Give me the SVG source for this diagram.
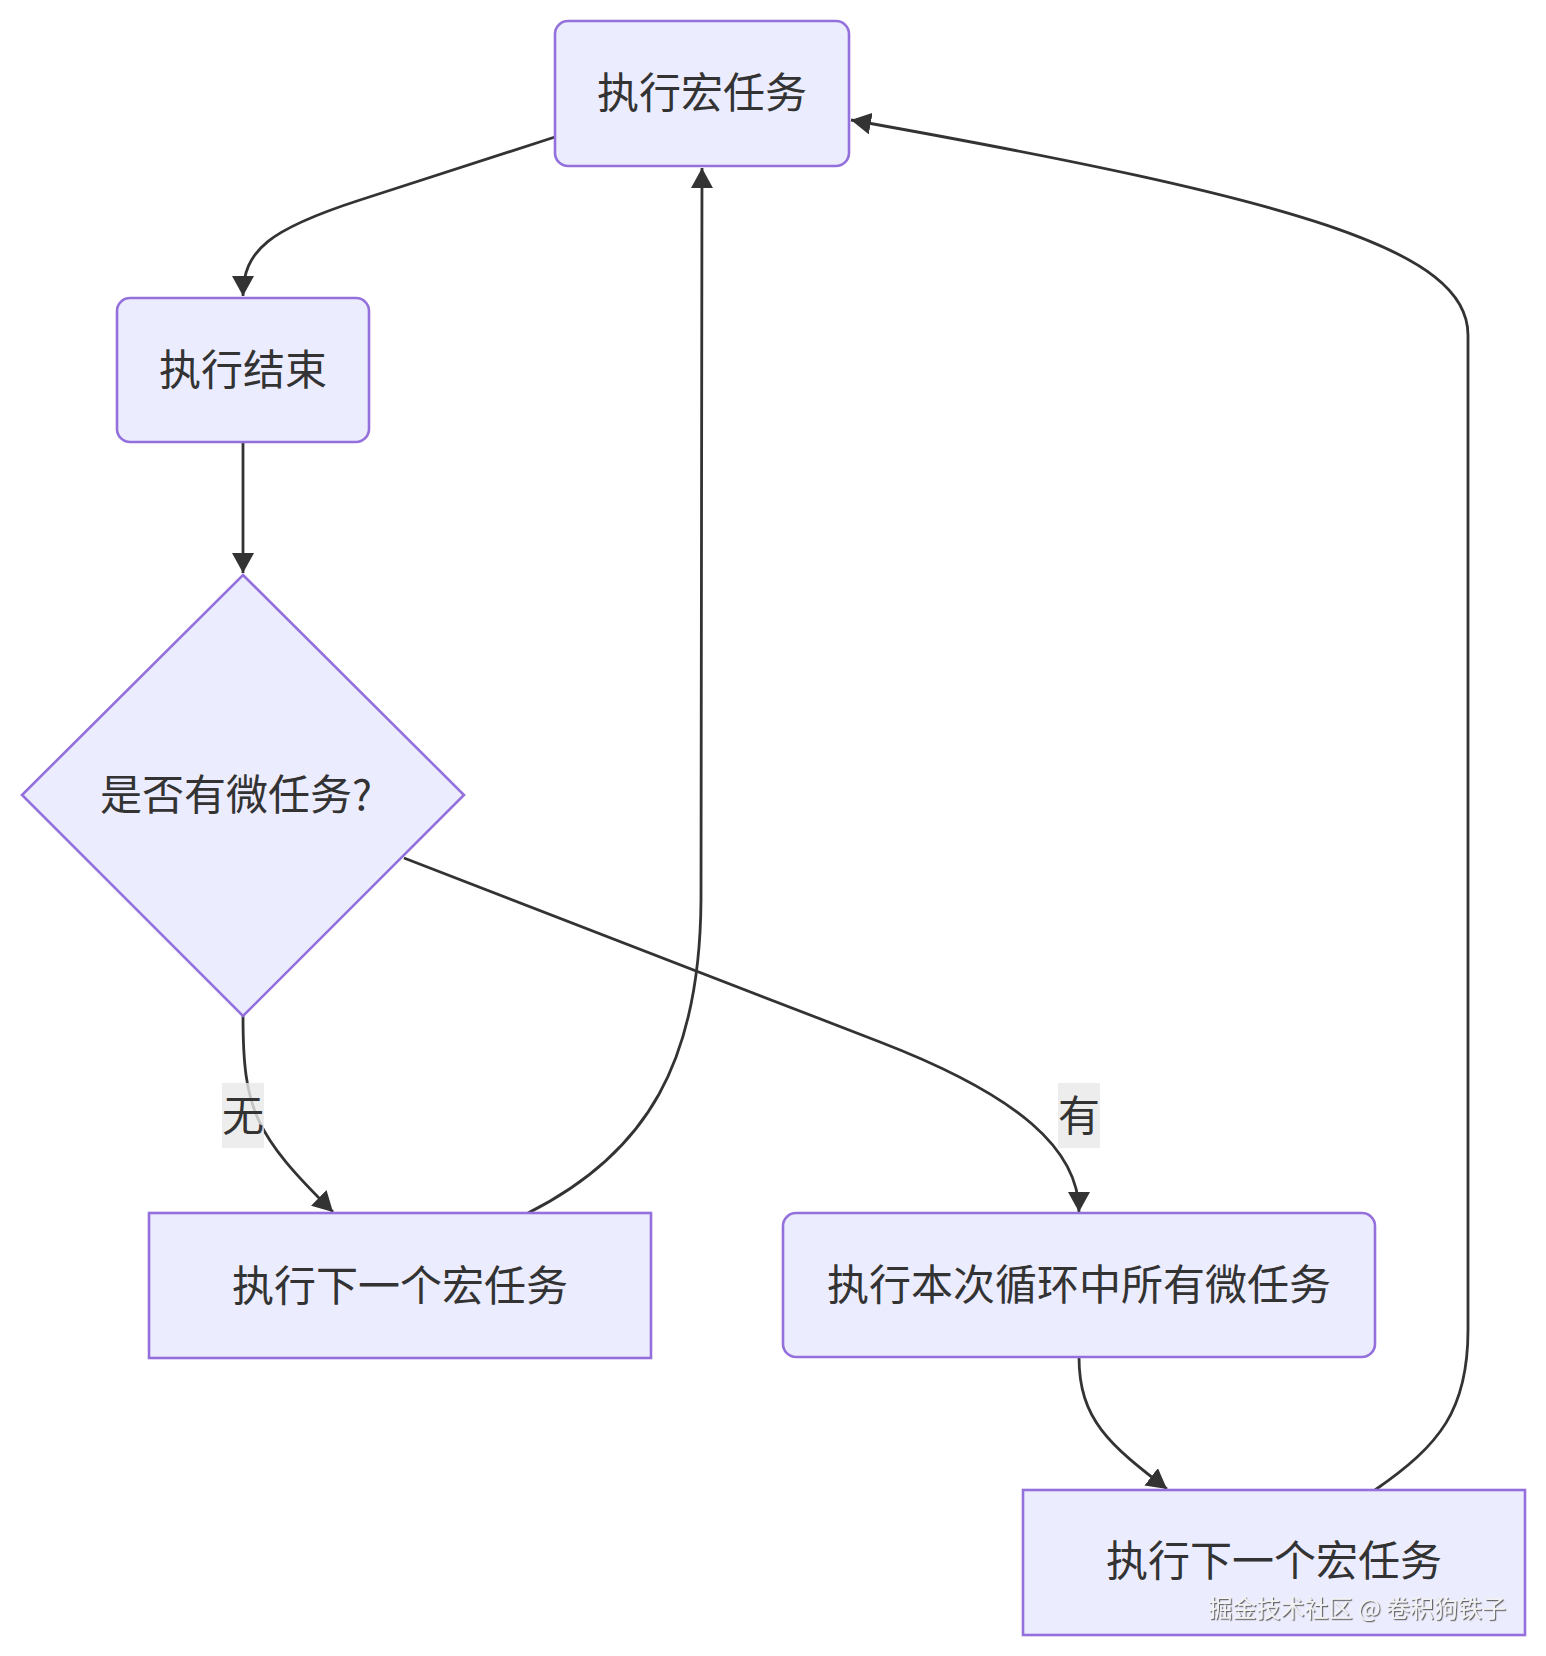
<svg xmlns="http://www.w3.org/2000/svg" width="1546" height="1656" viewBox="0 0 1546 1656">
<style>
.node{fill:#ECECFF;stroke:#9370DB;stroke-width:2.6}
.lbl{font-family:"Noto Sans CJK SC","Noto Sans",sans-serif;font-size:42px;fill:#333;text-anchor:middle}
.edge{fill:none;stroke:#333;stroke-width:2.8}
.elbg{fill:#e8e8e8;opacity:0.8}
.wm{font-family:"Noto Sans CJK SC","Noto Sans",sans-serif;font-size:24px;fill:#f2f2f2;text-anchor:end}
</style>
<defs>
<marker id="arr" markerUnits="userSpaceOnUse" markerWidth="22" markerHeight="22" refX="20" refY="11" orient="auto">
<path d="M0,0 L20,11 L0,22 z" fill="#333"/>
</marker>
<filter id="sh" x="-5%" y="-20%" width="110%" height="140%">
<feDropShadow dx="1.2" dy="1.2" stdDeviation="0.6" flood-color="#555" flood-opacity="0.9"/>
</filter>
</defs>
<rect width="1546" height="1656" fill="#fff"/>
<g id="connectors">
<path class="edge" d="M555,137 L360,200 C270,229 243,250 243,296" marker-end="url(#arr)"/>
<path class="edge" d="M243,442 L243,573" marker-end="url(#arr)"/>
<path class="edge" d="M243,1016 C243,1110 255,1135 333,1212" marker-end="url(#arr)"/>
<path class="edge" d="M404,858 L880,1042 C1020,1096 1079,1150 1079,1212" marker-end="url(#arr)"/>
<path class="edge" d="M528,1213 C648,1153 700,1060 701,900 L702,168" marker-end="url(#arr)"/>
<path class="edge" d="M1079,1357 C1079,1420 1110,1445 1167,1489" marker-end="url(#arr)"/>
<path class="edge" d="M1375,1490 C1440,1445 1468,1410 1468,1330 L1468,335 C1468,250 1300,200 851,120" marker-end="url(#arr)"/>
</g>
<g id="label-no">
<rect class="elbg" x="222" y="1083" width="42" height="65"/>
<text class="lbl" x="243" y="1131">无</text>
</g>
<g id="label-yes">
<rect class="elbg" x="1058" y="1083" width="42" height="65"/>
<text class="lbl" x="1079" y="1131">有</text>
</g>
<g id="node-macro">
<rect class="node" x="555" y="21" width="294" height="145" rx="13" ry="13"/>
<text class="lbl" x="702" y="108">执行宏任务</text>
</g>
<g id="node-end">
<rect class="node" x="117" y="298" width="252" height="144" rx="13" ry="13"/>
<text class="lbl" x="243" y="385">执行结束</text>
</g>
<g id="node-decision">
<polygon class="node" points="243,575 464,795 243,1016 22,795"/>
<text class="lbl" x="236" y="810">是否有微任务?</text>
</g>
<g id="node-next-left">
<rect class="node" x="149" y="1213" width="502" height="145"/>
<text class="lbl" x="400" y="1301">执行下一个宏任务</text>
</g>
<g id="node-micro">
<rect class="node" x="783" y="1213" width="592" height="144" rx="13" ry="13"/>
<text class="lbl" x="1079" y="1300">执行本次循环中所有微任务</text>
</g>
<g id="node-next-right">
<rect class="node" x="1023" y="1490" width="502" height="145"/>
<text class="lbl" x="1274" y="1576">执行下一个宏任务</text>
</g>
<text class="wm" x="1506" y="1617" filter="url(#sh)">掘金技术社区 @ 卷积狗铁子</text>
</svg>
